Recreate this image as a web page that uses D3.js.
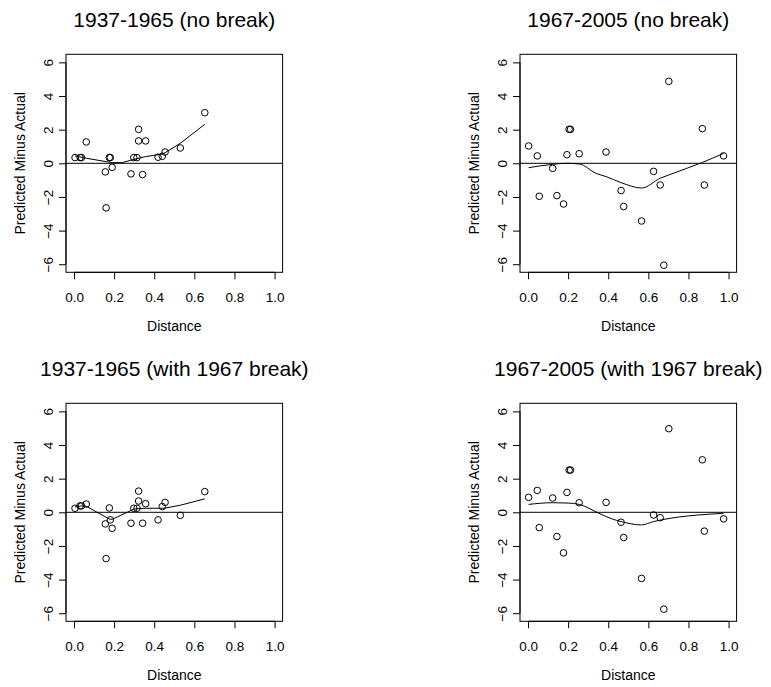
<!DOCTYPE html>
<html>
<head>
<meta charset="utf-8">
<script src="https://cdn.jsdelivr.net/npm/d3@7"></script>
<style>
  html, body { margin: 0; padding: 0; background: #fff; }
  svg { display: block; }
  text { font-family: "Liberation Sans", Arial, Helvetica, sans-serif; fill: #000; }
</style>
</head>
<body>
<svg id="chart" width="771" height="687"></svg>
<script>
// ---------- data ----------
const titles = ["1937-1965 (no break)", "1967-2005 (no break)",
                "1937-1965 (with 1967 break)", "1967-2005 (with 1967 break)"];
const xLabel = "Distance";
const yLabel = "Predicted Minus Actual";
const xTicks = [0, 0.2, 0.4, 0.6, 0.8, 1.0];
const yTicks = [-6, -4, -2, 0, 2, 4, 6];

const distEarly = [0.005, 0.03, 0.037, 0.061, 0.176, 0.181, 0.156, 0.19, 0.16, 0.284, 0.298,
                   0.314, 0.322, 0.322, 0.357, 0.342, 0.419, 0.44, 0.454, 0.53, 0.652];
const residEarlyNoBreak = [0.34, 0.34, 0.34, 1.27, 0.34, 0.34, -0.51, -0.24, -2.65, -0.63, 0.34,
                           0.34, 2.02, 1.33, 1.33, -0.67, 0.36, 0.42, 0.67, 0.91, 3.01];
const residEarlyBreak = [0.24, 0.38, 0.38, 0.49, 0.26, -0.45, -0.69, -0.95, -2.75, -0.65, 0.24,
                         0.24, 1.26, 0.67, 0.51, -0.65, -0.45, 0.34, 0.59, -0.18, 1.23];

const distLate = [0.003, 0.046, 0.056, 0.123, 0.144, 0.177, 0.194, 0.205, 0.212, 0.255, 0.389,
                  0.464, 0.477, 0.566, 0.626, 0.659, 0.677, 0.702, 0.869, 0.879, 0.975];
const residLateNoBreak = [1.03, 0.44, -1.96, -0.30, -1.92, -2.42, 0.51, 2.02, 2.02, 0.57, 0.67,
                          -1.62, -2.57, -3.43, -0.48, -1.29, -6.06, 4.87, 2.06, -1.29, 0.44];
const residLateBreak = [0.89, 1.30, -0.91, 0.85, -1.44, -2.41, 1.18, 2.51, 2.51, 0.57, 0.59,
                        -0.59, -1.50, -3.93, -0.16, -0.32, -5.76, 4.97, 3.12, -1.12, -0.39];

// smoother curves
const smoothEarlyNoBreakX = [0.005, 0.061, 0.16, 0.19, 0.24, 0.30, 0.357, 0.44, 0.454, 0.53, 0.652];
const smoothEarlyNoBreakY = [0.44, 0.30, 0.10, 0.04, 0.04, 0.24, 0.40, 0.55, 0.63, 1.19, 2.32];
const smoothEarlyBreakX = [0.005, 0.037, 0.061, 0.176, 0.19, 0.30, 0.357, 0.45, 0.53, 0.652];
const smoothEarlyBreakY = [0.32, 0.38, 0.36, -0.40, -0.42, 0.20, 0.24, 0.24, 0.42, 0.80];
const smoothLateNoBreakX = [0.003, 0.056, 0.123, 0.19, 0.255, 0.34, 0.389, 0.464, 0.566, 0.659, 0.702, 0.869, 0.975];
const smoothLateNoBreakY = [-0.26, -0.16, -0.06, 0.0, -0.04, -0.60, -0.79, -1.15, -1.47, -0.89, -0.69, 0.05, 0.59];
const smoothLateBreakX = [0.003, 0.123, 0.20, 0.255, 0.354, 0.42, 0.464, 0.566, 0.626, 0.975];
const smoothLateBreakY = [0.47, 0.57, 0.55, 0.47, -0.06, -0.40, -0.55, -0.75, -0.55, -0.06];

const panels = [
  { title: titles[0], x: distEarly, y: residEarlyNoBreak, sx: smoothEarlyNoBreakX, sy: smoothEarlyNoBreakY, left: 66,  top: 54.3, smooth: false },
  { title: titles[1], x: distLate,  y: residLateNoBreak,  sx: smoothLateNoBreakX,  sy: smoothLateNoBreakY,  left: 520, top: 54.3, smooth: true },
  { title: titles[2], x: distEarly, y: residEarlyBreak,   sx: smoothEarlyBreakX,   sy: smoothEarlyBreakY,   left: 66,  top: 403.3, smooth: false },
  { title: titles[3], x: distLate,  y: residLateBreak,    sx: smoothLateBreakX,    sy: smoothLateBreakY,    left: 520, top: 403.3, smooth: true }
];

// ---------- drawing ----------
const svg = d3.select("#chart");
const W = 216.6, H = 218;

panels.forEach(p => {
  const g = svg.append("g").attr("transform", `translate(${p.left},${p.top})`);
  const x = d3.scaleLinear().domain([-0.04, 1.04]).range([0, W]);
  const y = d3.scaleLinear().domain([-6.48, 6.48]).range([H, 0]);

  // x axis
  const xa = g.append("g").attr("transform", `translate(0,${H})`)
    .call(d3.axisBottom(x).tickValues(xTicks).tickFormat(d3.format(".1f")).tickSize(7).tickPadding(8));
  xa.select(".domain").attr("d", `M${x(0)},0H${x(1)}`).attr("stroke", "#000");
  xa.selectAll("line").attr("stroke", "#000");
  xa.selectAll("text").attr("font-size", "13.5px")
    .attr("font-family", "Liberation Sans, Arial, sans-serif").attr("dy", null).attr("y", 30);

  // y axis
  const ya = g.append("g")
    .call(d3.axisLeft(y).tickValues(yTicks).tickFormat(d3.format("d")).tickSize(7));
  ya.select(".domain").attr("d", `M0,${y(-6)}V${y(6)}`).attr("stroke", "#000");
  ya.selectAll("line").attr("stroke", "#000");
  ya.selectAll("text")
    .attr("font-size", "13.5px").attr("font-family", "Liberation Sans, Arial, sans-serif")
    .attr("x", null).attr("dy", null).attr("text-anchor", "middle")
    .attr("transform", "translate(-12.7,0) rotate(-90)");

  // box
  g.append("rect").attr("x", 0).attr("y", 0).attr("width", W).attr("height", H)
    .attr("fill", "none").attr("stroke", "#000").attr("stroke-width", 1);

  // zero line
  g.append("line").attr("x1", 0).attr("x2", W).attr("y1", y(0)).attr("y2", y(0))
    .attr("stroke", "#000").attr("stroke-width", 1);

  // smoother
  const pts = p.sx.map((v, i) => [v, p.sy[i]]);
  g.append("path").datum(pts)
    .attr("d", d3.line().x(d => x(d[0])).y(d => y(d[1]))
      .curve(p.smooth ? d3.curveMonotoneX : d3.curveLinear))
    .attr("fill", "none").attr("stroke", "#000").attr("stroke-width", 1);

  // points
  g.selectAll("circle.pt").data(p.x.map((v, i) => [v, p.y[i]])).enter()
    .append("circle").attr("class", "pt")
    .attr("cx", d => x(d[0])).attr("cy", d => y(d[1])).attr("r", 3.3)
    .attr("fill", "none").attr("stroke", "#000").attr("stroke-width", 1);

  // title
  g.append("text").attr("x", W / 2).attr("y", -27.5).attr("text-anchor", "middle")
    .attr("font-size", "21px").text(p.title);

  // axis labels
  g.append("text").attr("x", W / 2).attr("y", H + 58.3).attr("text-anchor", "middle")
    .attr("font-size", "14px").text(xLabel);
  g.append("text").attr("transform", `translate(-41.5,${H / 2}) rotate(-90)`)
    .attr("text-anchor", "middle").attr("font-size", "14px").text(yLabel);
});
</script>
</body>
</html>
